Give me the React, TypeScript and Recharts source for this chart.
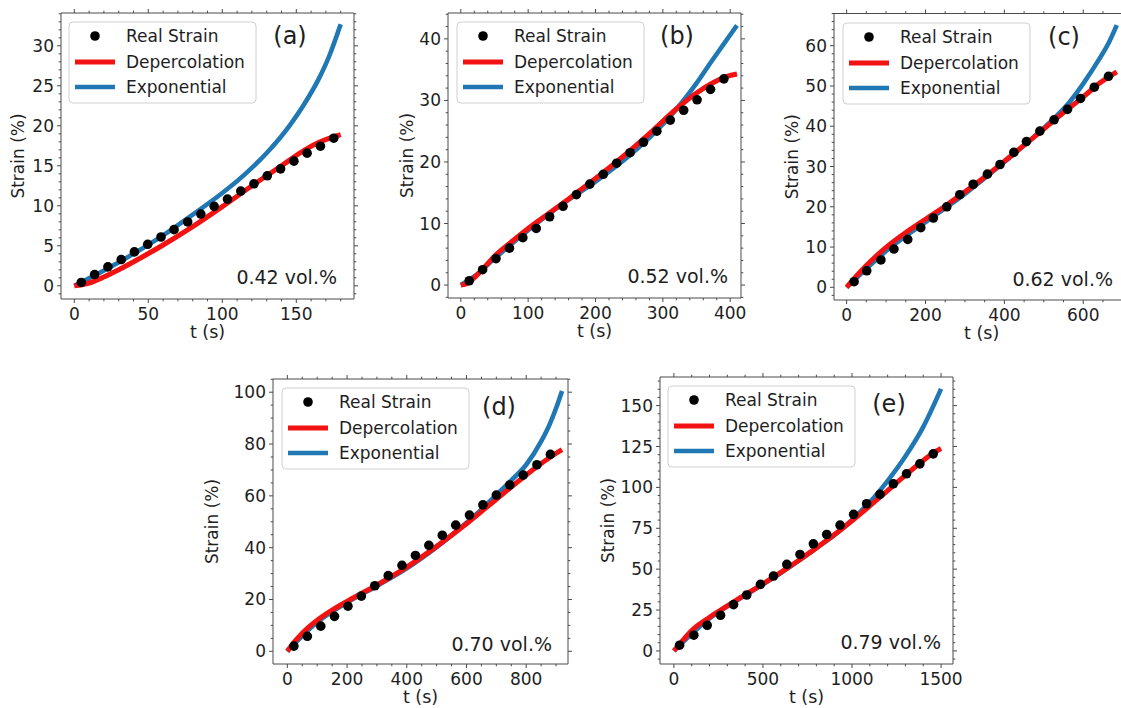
import React from 'react';
import { ComposedChart, Line, Scatter, XAxis, YAxis } from 'recharts';

// ---------- (a) 0.42 vol.% ----------
const dotTimeA = [4.7, 13.7, 22.7, 31.7, 40.6, 49.6, 58.6, 67.4, 76.6, 85.5, 94.5, 103.5, 112.5, 121.4, 130.4, 139.4, 148.4, 157.3, 166.3, 175.3];
const dotStrainA = [0.42, 1.41, 2.37, 3.28, 4.24, 5.19, 6.1, 7.02, 7.98, 8.97, 9.93, 10.84, 11.84, 12.75, 13.75, 14.62, 15.58, 16.58, 17.45, 18.45];
const depTimeA = [0, 10, 20, 30, 45, 60, 80, 100, 120, 140, 155, 165, 173, 180];
const depStrainA = [0, 0.35, 1.1, 2.0, 3.5, 5.1, 7.4, 9.9, 12.5, 15.0, 16.9, 17.9, 18.5, 18.9];
const expTimeA = [0, 20, 40, 60, 80, 100, 115, 130, 145, 155, 165, 172, 180];
const expStrainA = [0, 1.9, 4.0, 6.3, 8.9, 11.6, 13.9, 16.6, 19.9, 22.6, 25.8, 28.6, 32.7];
const xMajorA = [0, 50, 100, 150];
const yMajorA = [0, 5, 10, 15, 20, 25, 30];

// ---------- (b) 0.52 vol.% ----------
const dotTimeB = [12.5, 32.4, 52.3, 72.2, 92.1, 112, 131.9, 151.8, 171.7, 191.6, 211.5, 231.4, 251.3, 271.2, 291.1, 311, 330.9, 350.8, 370.7, 390.6];
const dotStrainB = [0.7, 2.5, 4.3, 6.0, 7.7, 9.2, 11.1, 12.8, 14.7, 16.4, 18.0, 19.8, 21.5, 23.2, 25.0, 26.8, 28.4, 30.1, 31.8, 33.5];
const depTimeB = [0, 10, 20, 35, 50, 75, 100, 130, 160, 200, 240, 280, 320, 350, 375, 395, 410];
const depStrainB = [0, 0.3, 1.2, 2.9, 4.7, 7.0, 9.2, 11.6, 14.0, 17.3, 20.8, 24.6, 28.6, 31.2, 32.9, 33.9, 34.3];
const expTimeB = [0, 20, 50, 100, 150, 200, 250, 290, 310, 330, 350, 370, 390, 410];
const expStrainB = [0, 1.4, 4.3, 8.9, 13.1, 16.8, 21.0, 25.0, 27.3, 29.9, 32.8, 36.0, 39.1, 42.2];
const xMajorB = [0, 100, 200, 300, 400];
const yMajorB = [0, 10, 20, 30, 40];

// ---------- (c) 0.62 vol.% ----------
const dotTimeC = [19, 51, 87, 120, 155, 188, 220, 254, 287, 321, 357, 389, 424, 456, 490, 526, 560, 593, 628, 664];
const dotStrainC = [1.4, 4.1, 6.8, 9.5, 11.9, 14.8, 17.2, 20.0, 23.0, 25.6, 28.1, 30.5, 33.5, 36.2, 38.8, 41.6, 44.2, 46.9, 49.7, 52.4];
const depTimeC = [0, 25, 50, 100, 150, 200, 250, 300, 350, 400, 450, 500, 550, 600, 640, 685];
const depStrainC = [0, 2.8, 5.4, 9.9, 13.6, 16.9, 20.2, 23.7, 27.4, 31.3, 35.3, 39.3, 43.4, 47.3, 50.6, 53.5];
const expTimeC = [0, 50, 100, 200, 300, 400, 480, 520, 560, 600, 640, 665, 685];
const expStrainC = [0, 4.6, 9.0, 16.2, 23.2, 31.1, 37.8, 41.4, 45.4, 50.6, 56.6, 60.8, 65.1];
const xMajorC = [0, 200, 400, 600];
const yMajorC = [0, 10, 20, 30, 40, 50, 60];

// ---------- (d) 0.70 vol.% ----------
const dotTimeD = [22, 67, 112, 158, 203, 248, 293, 338, 384, 429, 474, 519, 564, 610, 655, 700, 745, 790, 836, 881];
const dotStrainD = [2.0, 5.8, 9.7, 13.5, 17.4, 21.3, 25.3, 29.2, 33.2, 37.0, 40.9, 44.8, 48.7, 52.6, 56.5, 60.3, 64.2, 68.0, 72.0, 76.0];
const depTimeD = [0, 25, 50, 100, 150, 200, 300, 400, 500, 600, 700, 780, 840, 880, 920];
const depStrainD = [0, 3.8, 7.0, 12.0, 15.9, 19.3, 25.6, 32.5, 40.5, 49.2, 58.7, 66.2, 71.6, 74.9, 77.8];
const expTimeD = [0, 100, 200, 300, 400, 500, 600, 660, 700, 750, 800, 850, 880, 900, 920];
const expStrainD = [0, 11.2, 18.8, 25.2, 32.0, 40.2, 49.6, 55.8, 60.4, 66.0, 72.0, 81.0, 88.0, 93.8, 100.5];
const xMajorD = [0, 200, 400, 600, 800];
const yMajorD = [0, 20, 40, 60, 80, 100];

// ---------- (e) 0.79 vol.% ----------
const dotTimeE = [32, 112, 187, 262, 335, 409, 486, 559, 634, 708, 783, 858, 933, 1009, 1082, 1157, 1232, 1306, 1381, 1456];
const dotStrainE = [3.5, 9.6, 15.7, 21.8, 28.3, 34.2, 40.7, 45.8, 52.9, 59.0, 65.5, 71.2, 76.9, 83.5, 90.0, 95.7, 102.2, 108.3, 114.4, 120.5];
const depTimeE = [0, 50, 100, 200, 300, 400, 500, 600, 700, 800, 900, 1000, 1100, 1200, 1300, 1400, 1460, 1500];
const depStrainE = [0, 6.5, 12.5, 20.6, 27.5, 34.4, 41.0, 48.0, 55.3, 63.0, 71.0, 79.6, 88.7, 98.0, 107.5, 116.5, 121.3, 123.8];
const expTimeE = [0, 200, 400, 600, 800, 950, 1050, 1100, 1200, 1300, 1400, 1500];
const expStrainE = [0, 19.8, 34.0, 47.6, 62.8, 75.2, 85.5, 91.0, 104.0, 119.0, 137.0, 160.2];
const xMajorE = [0, 500, 1000, 1500];
const yMajorE = [0, 25, 50, 75, 100, 125, 150];

const legendLabels = ['Real Strain', 'Depercolation', 'Exponential'];

// ---------- styling ----------
const FONT = '"DejaVu Sans", Verdana, sans-serif';
const TEXT = '#1e1e1e';
const AXIS = '#4a4a4a';
const RED = '#f21212';
const BLUE = '#1f77b4';
const CANVAS_W = 1140;
const CANVAS_H = 708;
const AX = 1; // thickness reserved for each axis band

type Pt = { t: number; v: number };
const zip = (ts: number[], vs: number[]): Pt[] => ts.map((t, i) => ({ t, v: vs[i] }));

type Frame = { x0: number; y0: number; x1: number; y1: number };
type PanelCfg = {
  letter: string;
  conc: string;
  frame: Frame;
  xDomain: [number, number];
  yDomain: [number, number];
  xMajor: number[];
  xStep: number;
  yMajor: number[];
  yStep: number;
  dots: Pt[];
  dep: Pt[];
  exp: Pt[];
  legend: { x: number; y: number };
  letterPos: { x: number; y: number };
  concPos: { x: number; y: number };
  yLabelX: number;
};

const panels: PanelCfg[] = [
  {
    letter: '(a)', conc: '0.42 vol.%',
    frame: { x0: 61, y0: 13, x1: 354, y1: 299 },
    xDomain: [-9, 189], yDomain: [-1.65, 34.1],
    xMajor: xMajorA, xStep: 10, yMajor: yMajorA, yStep: 1,
    dots: zip(dotTimeA, dotStrainA), dep: zip(depTimeA, depStrainA), exp: zip(expTimeA, expStrainA),
    legend: { x: 69, y: 22 }, letterPos: { x: 290, y: 44 }, concPos: { x: 337, y: 284 }, yLabelX: 18,
  },
  {
    letter: '(b)', conc: '0.52 vol.%',
    frame: { x0: 448, y0: 13, x1: 741, y1: 298 },
    xDomain: [-19, 416], yDomain: [-2.1, 44.2],
    xMajor: xMajorB, xStep: 20, yMajor: yMajorB, yStep: 2,
    dots: zip(dotTimeB, dotStrainB), dep: zip(depTimeB, depStrainB), exp: zip(expTimeB, expStrainB),
    legend: { x: 457, y: 22 }, letterPos: { x: 677, y: 44 }, concPos: { x: 728, y: 283 }, yLabelX: 407,
  },
  {
    letter: '(c)', conc: '0.62 vol.%',
    frame: { x0: 834, y0: 13.5, x1: 1129.4, y1: 300 },
    xDomain: [-32, 717], yDomain: [-3.15, 68.0],
    xMajor: xMajorC, xStep: 50, yMajor: yMajorC, yStep: 2,
    dots: zip(dotTimeC, dotStrainC), dep: zip(depTimeC, depStrainC), exp: zip(expTimeC, expStrainC),
    legend: { x: 843, y: 23 }, letterPos: { x: 1064, y: 45 }, concPos: { x: 1113, y: 286 }, yLabelX: 792,
  },
  {
    letter: '(d)', conc: '0.70 vol.%',
    frame: { x0: 273, y0: 379, x1: 568, y1: 664 },
    xDomain: [-48, 940], yDomain: [-4.9, 105.1],
    xMajor: xMajorD, xStep: 50, yMajor: yMajorD, yStep: 5,
    dots: zip(dotTimeD, dotStrainD), dep: zip(depTimeD, depStrainD), exp: zip(expTimeD, expStrainD),
    legend: { x: 282, y: 388 }, letterPos: { x: 499, y: 415 }, concPos: { x: 552, y: 651 }, yLabelX: 212,
  },
  {
    letter: '(e)', conc: '0.79 vol.%',
    frame: { x0: 660, y0: 377, x1: 953, y1: 664 },
    xDomain: [-78, 1567], yDomain: [-8, 167.5],
    xMajor: xMajorE, xStep: 100, yMajor: yMajorE, yStep: 5,
    dots: zip(dotTimeE, dotStrainE), dep: zip(depTimeE, depStrainE), exp: zip(expTimeE, expStrainE),
    legend: { x: 668, y: 386 }, letterPos: { x: 889, y: 412 }, concPos: { x: 941, y: 649 }, yLabelX: 608,
  },
];

// every tick position (minor spacing) inside the axis range
function tickValues(step: number, lo: number, hi: number): number[] {
  const out: number[] = [];
  for (let k = Math.ceil(lo / step); k <= Math.floor(hi / step); k++) {
    out.push(Math.round(k * step * 1000) / 1000);
  }
  return out;
}
const isMajor = (major: number[], v: number) => major.some((m) => Math.abs(m - v) < 1e-6);

const xTick = (major: number[], edgeY: number, dir: 1 | -1, labels: boolean) => (props: any) => {
  const { x, payload } = props;
  const v = payload.value;
  const mj = isMajor(major, v);
  const len = mj ? 4 : 2.3;
  return (
    <g>
      <line x1={x} x2={x} y1={edgeY} y2={edgeY + dir * len} stroke={AXIS} strokeWidth={1} />
      {labels && mj && (
        <text x={x} y={edgeY + 21} textAnchor="middle" fontSize={17} fill={TEXT} fontFamily={FONT}>
          {v}
        </text>
      )}
    </g>
  );
};

const yTick = (major: number[], edgeX: number, dir: 1 | -1, labels: boolean) => (props: any) => {
  const { y, payload } = props;
  const v = payload.value;
  const mj = isMajor(major, v);
  const len = mj ? 4 : 2.3;
  return (
    <g>
      <line x1={edgeX} x2={edgeX + dir * len} y1={y} y2={y} stroke={AXIS} strokeWidth={1} />
      {labels && mj && (
        <text x={edgeX - 7} y={y + 6} textAnchor="end" fontSize={17} fill={TEXT} fontFamily={FONT}>
          {v}
        </text>
      )}
    </g>
  );
};

const dotShape = (p: any) => <circle cx={p.cx} cy={p.cy} r={4.8} fill="#000" />;

function PanelChart({ cfg }: { cfg: PanelCfg }) {
  const { frame, xDomain, yDomain } = cfg;
  const xt = tickValues(cfg.xStep, xDomain[0], xDomain[1]);
  const yt = tickValues(cfg.yStep, yDomain[0], yDomain[1]);
  return (
    <div style={{ position: 'absolute', left: 0, top: 0 }}>
      <ComposedChart
        width={CANVAS_W}
        height={CANVAS_H}
        margin={{
          left: frame.x0 - AX,
          top: frame.y0 - AX,
          right: CANVAS_W - frame.x1 - AX,
          bottom: CANVAS_H - frame.y1 - AX,
        }}
      >
        <XAxis
          xAxisId={0} type="number" dataKey="t" orientation="bottom" domain={xDomain} ticks={xt}
          interval={0} allowDataOverflow height={AX} tickLine={false}
          axisLine={{ stroke: AXIS, strokeWidth: 1 }} tick={xTick(cfg.xMajor, frame.y1, 1, true)}
        />
        <XAxis
          xAxisId="top" type="number" dataKey="t" orientation="top" domain={xDomain} ticks={xt}
          interval={0} allowDataOverflow height={AX} tickLine={false}
          axisLine={{ stroke: AXIS, strokeWidth: 1 }} tick={xTick(cfg.xMajor, frame.y0, -1, false)}
        />
        <YAxis
          yAxisId={0} type="number" dataKey="v" orientation="left" domain={yDomain} ticks={yt}
          interval={0} allowDataOverflow width={AX} tickLine={false}
          axisLine={{ stroke: AXIS, strokeWidth: 1 }} tick={yTick(cfg.yMajor, frame.x0, -1, true)}
        />
        <YAxis
          yAxisId="right" type="number" dataKey="v" orientation="right" domain={yDomain} ticks={yt}
          interval={0} allowDataOverflow width={AX} tickLine={false}
          axisLine={{ stroke: AXIS, strokeWidth: 1 }} tick={yTick(cfg.yMajor, frame.x1, 1, false)}
        />
        <Line
          xAxisId={0} yAxisId={0} data={cfg.exp} dataKey="v" type="monotone" stroke={BLUE}
          strokeWidth={4.6} dot={false} activeDot={false} isAnimationActive={false}
        />
        <Line
          xAxisId={0} yAxisId={0} data={cfg.dep} dataKey="v" type="monotone" stroke={RED}
          strokeWidth={5} dot={false} activeDot={false} isAnimationActive={false}
        />
        <Scatter
          xAxisId={0} yAxisId={0} data={cfg.dots} dataKey="v" fill="#000"
          shape={dotShape} isAnimationActive={false}
        />
      </ComposedChart>
    </div>
  );
}

function PanelText({ cfg }: { cfg: PanelCfg }) {
  const { frame, legend } = cfg;
  const cxPlot = (frame.x0 + frame.x1) / 2;
  const cy = (frame.y0 + frame.y1) / 2;
  const lx = legend.x;
  const ly = legend.y;
  const rows = [ly + 14, ly + 40, ly + 65];
  return (
    <g fontFamily={FONT} fill={TEXT}>
      {/* legend */}
      <rect x={lx} y={ly} width={187} height={81} rx={4} ry={4} fill="#fff" fillOpacity={0.85} stroke="#d0d0d0" strokeWidth={1} />
      <circle cx={lx + 26} cy={rows[0]} r={4.8} fill="#000" />
      <line x1={lx + 6} x2={lx + 46} y1={rows[1]} y2={rows[1]} stroke={RED} strokeWidth={5} />
      <line x1={lx + 6} x2={lx + 46} y1={rows[2]} y2={rows[2]} stroke={BLUE} strokeWidth={4.6} />
      {legendLabels.map((s, i) => (
        <text key={s} x={lx + 57} y={rows[i] + 6} fontSize={17}>
          {s}
        </text>
      ))}
      {/* panel tag and loading */}
      <text x={cfg.letterPos.x} y={cfg.letterPos.y} fontSize={24} textAnchor="middle">
        {cfg.letter}
      </text>
      <text x={cfg.concPos.x} y={cfg.concPos.y} fontSize={19} textAnchor="end">
        {cfg.conc}
      </text>
      {/* axis titles */}
      <text x={cxPlot} y={frame.y1 + 39} fontSize={17.5} textAnchor="middle">
        t (s)
      </text>
      <text
        x={cfg.yLabelX + 6}
        y={cy}
        fontSize={17}
        textAnchor="middle"
        transform={`rotate(-90, ${cfg.yLabelX + 6}, ${cy})`}
      >
        Strain (%)
      </text>
    </g>
  );
}

export default function App() {
  return (
    <div
      style={{
        position: 'absolute',
        left: 0,
        top: 0,
        width: 1121,
        height: 708,
        overflow: 'hidden',
        background: '#fff',
      }}
    >
      {panels.map((p) => (
        <PanelChart key={p.letter} cfg={p} />
      ))}
      <svg
        width={CANVAS_W}
        height={CANVAS_H}
        style={{ position: 'absolute', left: 0, top: 0, pointerEvents: 'none' }}
      >
        {panels.map((p) => (
          <PanelText key={p.letter} cfg={p} />
        ))}
      </svg>
    </div>
  );
}
